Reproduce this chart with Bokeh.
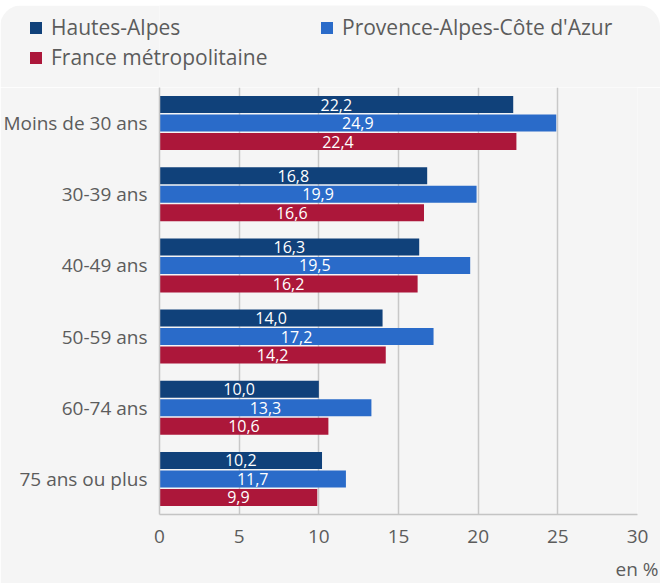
from bokeh.plotting import figure
from bokeh.layouts import column
from bokeh.models import ColumnDataSource, FactorRange, Range1d, Legend, LegendItem, Title, FixedTicker
from bokeh.transform import dodge
from bokeh.core.properties import value
from bokeh.embed import file_html
from bokeh.resources import INLINE

categories = ["Moins de 30 ans", "30-39 ans", "40-49 ans", "50-59 ans", "60-74 ans", "75 ans ou plus"]
hautes_alpes = [22.2, 16.8, 16.3, 14.0, 10.0, 10.2]
paca = [24.9, 19.9, 19.5, 17.2, 13.3, 11.7]
france = [22.4, 16.6, 16.2, 14.2, 10.6, 9.9]
series_names = ["Hautes-Alpes", "Provence-Alpes-Côte d'Azur", "France métropolitaine"]
series_colors = ["#10417a", "#2a6bc9", "#ac173a"]
x_ticks = [0, 5, 10, 15, 20, 25, 30]
unit_label = "en %"

FONT = "Open Sans"
GREY_TEXT = "#5c5c5c"
BG = "#f5f5f5"

# ---- main chart ----
fig = figure(
    frame_width=478, frame_height=427,
    min_border_left=159, min_border_right=23, min_border_top=0, min_border_bottom=69,
    y_range=FactorRange(*reversed(categories)),
    x_range=Range1d(0, 30),
    output_backend="svg", toolbar_location=None,
)
fig.background_fill_color = BG
fig.border_fill_color = BG
fig.outline_line_color = None

offsets = [0.26, 0.0, -0.26]
for vals, name, col, off in zip([hautes_alpes, paca, france], series_names, series_colors, offsets):
    src = ColumnDataSource(dict(
        cat=categories,
        val=vals,
        mid=[v / 2 for v in vals],
        label=[f"{v:.1f}".replace(".", ",") for v in vals],
    ))
    fig.hbar(y=dodge("cat", off, range=fig.y_range), left=0, right="val", height=0.238,
             source=src, fill_color=col, line_color=None)
    fig.text(x="mid", y=dodge("cat", off, range=fig.y_range), text="label", source=src,
             text_color="white", text_font=value(FONT), text_font_size="16px",
             text_align="center", text_baseline="middle")

fig.xaxis.ticker = FixedTicker(ticks=x_ticks)
fig.xgrid.ticker = FixedTicker(ticks=x_ticks)
for ax in (fig.xaxis[0], fig.yaxis[0]):
    ax.major_tick_line_color = None
    ax.minor_tick_line_color = None
    ax.axis_line_color = "#c4c4c4"
    ax.axis_line_width = 1.5
    ax.major_label_text_font = FONT
    ax.major_label_text_font_size = "19px"
    ax.major_label_text_color = GREY_TEXT
fig.xaxis.major_label_standoff = 9
fig.yaxis.major_label_standoff = 6
fig.xgrid.grid_line_color = "#c8c8c8"
fig.xgrid.grid_line_width = 1.5
fig.ygrid.grid_line_color = None

fig.add_layout(Title(text=unit_label, align="right", offset=-21, text_font=FONT,
                     text_font_size="19px", text_font_style="normal", text_color=GREY_TEXT,
                     standoff=17), "below")

# ---- legend header ----
head = figure(
    frame_width=660, frame_height=82,
    min_border_left=0, min_border_right=0, min_border_top=0, min_border_bottom=0,
    x_range=Range1d(0, 1), y_range=Range1d(0, 1),
    x_axis_type=None, y_axis_type=None,
    output_backend="svg", toolbar_location=None,
)
head.background_fill_color = BG
head.border_fill_color = BG
head.outline_line_color = None
head.grid.grid_line_color = None
head.styles = {"border-radius": "22px 22px 0 0", "overflow": "hidden", "margin-top": "5px"}

# zero-size placeholder bars: they only carry the colours for the legend swatches
legend_renderers = [
    head.hbar(y="y", right="right", left=0, height=0.0,
              source=ColumnDataSource(dict(y=[0.0], right=[0.0])),
              fill_color=c, line_color=None)
    for c in series_colors
]

leg_common = dict(
    orientation="horizontal", padding=0, margin=0, spacing=0,
    border_line_color=None, background_fill_alpha=0,
    glyph_width=15, glyph_height=15, label_standoff=8, label_width=268, label_height=30,
    label_text_font=FONT, label_text_font_size="21px", label_text_color=GREY_TEXT,
)
leg1 = Legend(items=[LegendItem(label=series_names[0], renderers=[legend_renderers[0]]),
                     LegendItem(label=series_names[1], renderers=[legend_renderers[1]])],
              location=(28, 45), **leg_common)
leg2 = Legend(items=[LegendItem(label=series_names[2], renderers=[legend_renderers[2]])],
              location=(28, 15), **leg_common)
head.add_layout(leg1, "center")
head.add_layout(leg2, "center")

p = column(head, fig, spacing=0)

open("out.html", "w").write(file_html(p, INLINE))
